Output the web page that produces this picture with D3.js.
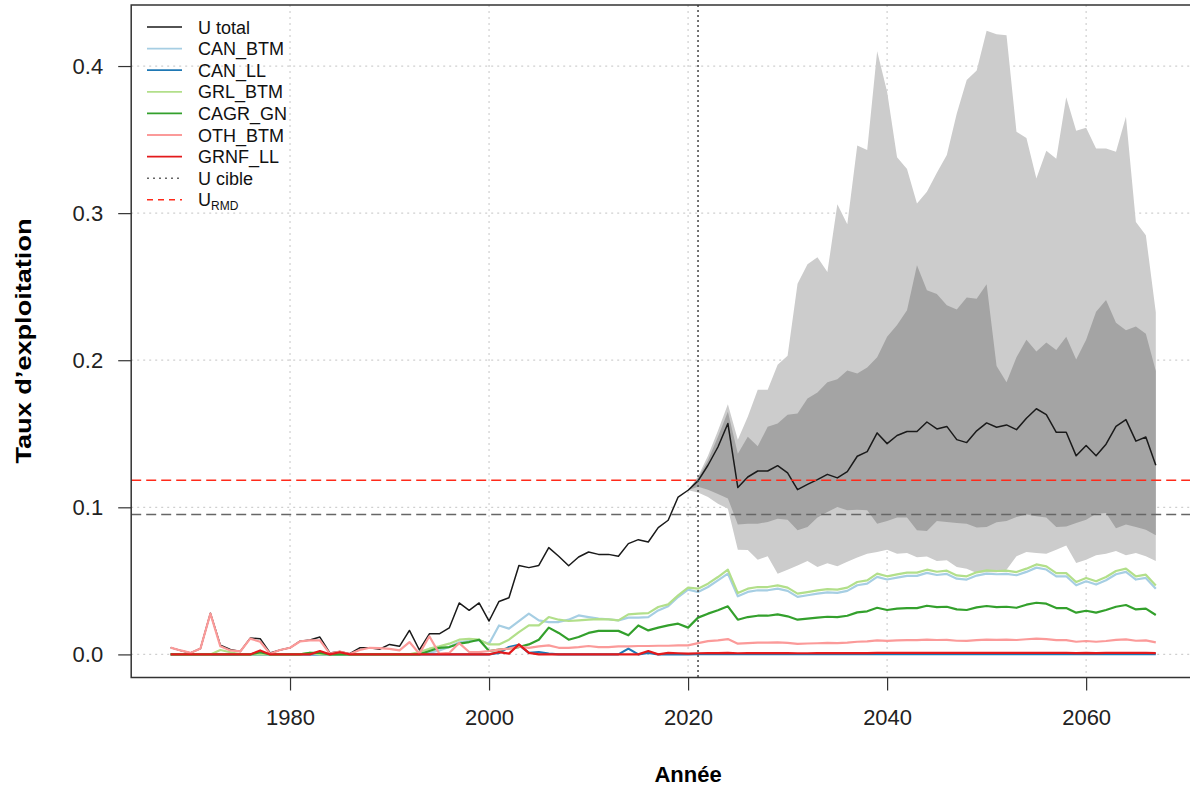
<!DOCTYPE html>
<html>
<head>
<meta charset="utf-8">
<script src="https://cdn.jsdelivr.net/npm/d3@7"></script>
<style>
  body { margin: 0; background: #fff; }
  svg { font-family: "Liberation Sans", Arial, sans-serif; }
</style>
</head>
<body>
<div id="chart"></div>
<script>
const width = 1190;
const height = 786;

// years 1968 -> 2067
const years = d3.range(1968, 2068);
const bandYears = d3.range(2020, 2068);

const uTotal = [0.0046, 0.0027, 0.001, 0.004, 0.028, 0.0063, 0.0033, 0.002, 0.0111, 0.0107,
  0.001, 0.003, 0.0045, 0.009, 0.0098, 0.0118, 0.001, 0.002, 0.0005, 0.0045,
  0.0045, 0.0035, 0.0068, 0.0055, 0.0163, 0.003, 0.014, 0.014, 0.018, 0.035,
  0.030, 0.035, 0.0227, 0.036, 0.0385, 0.0605, 0.059, 0.0605, 0.0726, 0.0667,
  0.0603, 0.0662, 0.0696, 0.068, 0.068, 0.0667, 0.0753, 0.078, 0.0764, 0.0862,
  0.0912, 0.107, 0.1116, 0.118, 0.1286, 0.141, 0.157, 0.1134, 0.1206, 0.1247,
  0.1247, 0.1283, 0.1234, 0.112, 0.1156, 0.1188, 0.1224, 0.120, 0.1243, 0.1347,
  0.1379, 0.1506, 0.1433, 0.1488, 0.1515, 0.1515, 0.158, 0.1533, 0.155, 0.146,
  0.144, 0.152, 0.1574, 0.1544, 0.156, 0.1528, 0.1605, 0.167, 0.163, 0.151,
  0.151, 0.135, 0.142, 0.135, 0.1429, 0.155, 0.1596, 0.145, 0.1478, 0.1286];

const canBtm = [0, 0, 0, 0, 0, 0, 0, 0, 0, 0,
  0, 0, 0, 0, 0, 0, 0, 0, 0, 0,
  0, 0, 0, 0, 0, 0.0005, 0.001, 0.0027, 0.005, 0.0082,
  0.0091, 0.0096, 0.0073, 0.0197, 0.0175, 0.0227, 0.0277, 0.0231, 0.022, 0.022,
  0.0236, 0.0265, 0.0254, 0.0243, 0.0239, 0.0231, 0.025, 0.025, 0.0254, 0.0299,
  0.0327, 0.039, 0.044, 0.0424, 0.0458, 0.0503, 0.0549, 0.0395, 0.0425, 0.0436,
  0.0436, 0.0447, 0.0432, 0.0391, 0.0402, 0.0413, 0.0422, 0.0418, 0.0432, 0.047,
  0.0481, 0.0527, 0.0509, 0.0522, 0.0534, 0.0534, 0.0554, 0.054, 0.0547, 0.0515,
  0.0509, 0.0536, 0.0549, 0.0545, 0.0547, 0.0538, 0.0561, 0.059, 0.0577, 0.0531,
  0.0531, 0.047, 0.0497, 0.0475, 0.0504, 0.0545, 0.0561, 0.0509, 0.052, 0.0447];

const canLl = [0, 0, 0, 0, 0, 0, 0, 0, 0, 0,
  0, 0, 0, 0, 0, 0, 0, 0, 0, 0,
  0, 0, 0, 0, 0, 0, 0, 0, 0, 0,
  0, 0, 0, 0.001, 0.005, 0.0065, 0.001, 0.0015, 0.0005, 0,
  0, 0, 0, 0, 0, 0, 0.0039, 0, 0.001, 0,
  0, 0, 0, 0.0002, 0.0002, 0.0002, 0.0002, 0.0002, 0.0002, 0.0002,
  0.0002, 0.0002, 0.0002, 0.0002, 0.0002, 0.0002, 0.0002, 0.0002, 0.0002, 0.0002,
  0.0002, 0.0002, 0.0002, 0.0002, 0.0002, 0.0002, 0.0002, 0.0002, 0.0002, 0.0002,
  0.0002, 0.0002, 0.0002, 0.0002, 0.0002, 0.0002, 0.0002, 0.0002, 0.0002, 0.0002,
  0.0002, 0.0002, 0.0002, 0.0002, 0.0002, 0.0002, 0.0002, 0.0002, 0.0002, 0.0002];

const grlBtm = [0, 0, 0, 0, 0, 0.003, 0.0015, 0, 0, 0,
  0, 0, 0, 0, 0.001, 0, 0, 0, 0, 0,
  0, 0, 0, 0, 0, 0.0016, 0.0039, 0.0055, 0.0073, 0.010,
  0.0105, 0.010, 0.0068, 0.0068, 0.010, 0.0152, 0.0197, 0.0197, 0.0254, 0.0236,
  0.0227, 0.0231, 0.0236, 0.024, 0.0238, 0.0231, 0.0272, 0.0277, 0.0281, 0.0322,
  0.034, 0.0401, 0.0454, 0.0447, 0.0481, 0.0526, 0.0576, 0.0417, 0.0447, 0.0458,
  0.0458, 0.0469, 0.0454, 0.0413, 0.0424, 0.0435, 0.0444, 0.044, 0.0454, 0.0492,
  0.0503, 0.0549, 0.0531, 0.0544, 0.0556, 0.0556, 0.0576, 0.0562, 0.0569, 0.0537,
  0.0531, 0.0558, 0.0571, 0.0567, 0.0569, 0.056, 0.0583, 0.0612, 0.0599, 0.0553,
  0.0553, 0.0492, 0.0519, 0.0497, 0.0526, 0.0567, 0.0583, 0.0531, 0.0542, 0.0469];

const cagrGn = [0, 0, 0, 0, 0, 0, 0, 0, 0, 0.0015,
  0, 0, 0, 0, 0.001, 0.001, 0, 0, 0, 0,
  0, 0, 0, 0, 0, 0, 0.0023, 0.0045, 0.005, 0.0073,
  0.0084, 0.010, 0.0023, 0.0032, 0.004, 0.005, 0.0068, 0.010, 0.0182, 0.0146,
  0.010, 0.0118, 0.0146, 0.016, 0.016, 0.016, 0.013, 0.0197, 0.0163, 0.0182,
  0.0197, 0.0209, 0.0182, 0.025, 0.0277, 0.030, 0.0327, 0.0236, 0.0254, 0.0263,
  0.0263, 0.0272, 0.0259, 0.0236, 0.0243, 0.025, 0.0256, 0.0254, 0.0263, 0.0286,
  0.0293, 0.0317, 0.0302, 0.0311, 0.0315, 0.0315, 0.0331, 0.0322, 0.0324, 0.0306,
  0.0302, 0.032, 0.0329, 0.0322, 0.0324, 0.0317, 0.0338, 0.0351, 0.0345, 0.0315,
  0.0315, 0.0284, 0.0297, 0.0284, 0.0302, 0.0324, 0.0336, 0.0306, 0.0311, 0.0268];

const othBtm = [0.0046, 0.0027, 0.001, 0.004, 0.0277, 0.0055, 0.0027, 0.002, 0.0107, 0.0086,
  0.0005, 0.003, 0.0045, 0.0088, 0.0095, 0.0095, 0.0005, 0.002, 0.0003, 0.003,
  0.0045, 0.0043, 0.0038, 0.0028, 0.0084, 0.0005, 0.0123, 0.0005, 0.001, 0.0077,
  0.0016, 0.0016, 0.0023, 0.0032, 0.0039, 0.0055, 0.0045, 0.0055, 0.0061, 0.0045,
  0.0045, 0.005, 0.0057, 0.005, 0.005, 0.0055, 0.0055, 0.0057, 0.0057, 0.0059,
  0.0059, 0.0061, 0.0061, 0.0077, 0.009, 0.0096, 0.0104, 0.0073, 0.0077, 0.008,
  0.008, 0.0082, 0.0079, 0.0072, 0.0074, 0.0076, 0.0078, 0.0077, 0.008, 0.0086,
  0.0088, 0.0096, 0.0092, 0.0095, 0.0097, 0.0097, 0.0101, 0.0098, 0.0099, 0.0093,
  0.0092, 0.0097, 0.0101, 0.0099, 0.010, 0.0098, 0.0103, 0.0107, 0.0104, 0.0097,
  0.0097, 0.0086, 0.0091, 0.0086, 0.0091, 0.0099, 0.0102, 0.0093, 0.0095, 0.0082];

const grnfLl = [0, 0, 0, 0, 0, 0, 0, 0, 0, 0.0027,
  0, 0, 0, 0, 0, 0.0023, 0, 0.0015, 0, 0,
  0, 0, 0, 0, 0, 0, 0, 0, 0, 0,
  0, 0, 0, 0.0016, 0.0005, 0.0068, 0.001, 0, 0, 0,
  0, 0, 0, 0, 0, 0, 0, 0, 0.0023, 0,
  0.001, 0.0008, 0.0005, 0.0008, 0.0009, 0.0009, 0.001, 0.0008, 0.0009, 0.0009,
  0.0009, 0.0009, 0.0009, 0.0008, 0.0008, 0.0009, 0.0009, 0.0009, 0.0009, 0.0009,
  0.0009, 0.001, 0.001, 0.001, 0.001, 0.001, 0.001, 0.001, 0.001, 0.001,
  0.001, 0.001, 0.001, 0.001, 0.001, 0.001, 0.001, 0.001, 0.001, 0.001,
  0.001, 0.0009, 0.001, 0.0009, 0.001, 0.001, 0.001, 0.001, 0.001, 0.0009];

// projection envelopes, 2020 -> 2067
const lightLo = [0.1116, 0.110, 0.107, 0.1025, 0.099, 0.0712, 0.071, 0.0644, 0.0667, 0.0549,
  0.0576, 0.0605, 0.0635, 0.0594, 0.062, 0.060, 0.063, 0.0658, 0.0685, 0.0696,
  0.0712, 0.0685, 0.069, 0.066, 0.0665, 0.0635, 0.064, 0.0594, 0.0583, 0.0553,
  0.0558, 0.0558, 0.0576, 0.0667, 0.0696, 0.069, 0.0685, 0.0712, 0.0741, 0.0621,
  0.0644, 0.0674, 0.0685, 0.0703, 0.0674, 0.069, 0.0667, 0.0635];
const lightHi = [0.1116, 0.121, 0.135, 0.152, 0.170, 0.146, 0.1615, 0.180, 0.180, 0.197,
  0.203, 0.252, 0.2653, 0.27, 0.26, 0.306, 0.2925, 0.346, 0.343, 0.41,
  0.3826, 0.338, 0.330, 0.3066, 0.3145, 0.3274, 0.3395, 0.3678, 0.3905, 0.397,
  0.424, 0.4216, 0.421, 0.3553, 0.351, 0.3236, 0.3424, 0.337, 0.3787, 0.356,
  0.358, 0.344, 0.344, 0.3417, 0.3655, 0.294, 0.285, 0.2326];
const darkLo = [0.1116, 0.114, 0.112, 0.109, 0.106, 0.0884, 0.0889, 0.0889, 0.090, 0.0923,
  0.0916, 0.0844, 0.0866, 0.093, 0.0968, 0.1002, 0.098, 0.0984, 0.098, 0.0889,
  0.0907, 0.093, 0.093, 0.0844, 0.0839, 0.0907, 0.09, 0.0893, 0.0889, 0.0862,
  0.0866, 0.0898, 0.0907, 0.0934, 0.0952, 0.0939, 0.093, 0.0866, 0.087, 0.0893,
  0.0916, 0.0957, 0.0961, 0.0857, 0.0884, 0.0866, 0.0848, 0.081];
const darkHi = [0.1116, 0.120, 0.132, 0.148, 0.165, 0.1365, 0.148, 0.1415, 0.1547, 0.157,
  0.163, 0.1637, 0.174, 0.178, 0.185, 0.187, 0.193, 0.191, 0.195, 0.202,
  0.216, 0.224, 0.234, 0.2646, 0.2476, 0.245, 0.2374, 0.2345, 0.2426, 0.2418,
  0.2517, 0.196, 0.185, 0.202, 0.214, 0.206, 0.212, 0.207, 0.216, 0.2005,
  0.214, 0.233, 0.241, 0.2254, 0.2204, 0.223, 0.218, 0.1927];

const uCible = 0.0952;
const uRmd = 0.1184;
const lastYear = 2021;

const xTicks = [1980, 2000, 2020, 2040, 2060];
const yTicks = [0, 0.1, 0.2, 0.3, 0.4];

const series = [
  {name: "U total", values: uTotal, color: "#1a1a1a", w: 1.5},
  {name: "CAN_BTM", values: canBtm, color: "#a6cee3", w: 2.2},
  {name: "CAN_LL", values: canLl, color: "#1f78b4", w: 2.2},
  {name: "GRL_BTM", values: grlBtm, color: "#b2df8a", w: 2.2},
  {name: "CAGR_GN", values: cagrGn, color: "#33a02c", w: 2.2},
  {name: "OTH_BTM", values: othBtm, color: "#fb9a99", w: 2.2},
  {name: "GRNF_LL", values: grnfLl, color: "#e31a1c", w: 2.2}
];

const plot = {left: 131.2, top: 5, right: 1195.2, bottom: 677.5};

const x = d3.scaleLinear().domain([1964.04, 2070.96]).range([plot.left, plot.right]);
const y = d3.scaleLinear().domain([-0.0157, 0.4415]).range([plot.bottom, plot.top]);

const svg = d3.select("#chart")
  .append("svg")
  .attr("width", width)
  .attr("height", height);

svg.append("defs").append("clipPath")
  .attr("id", "clip")
  .append("rect")
  .attr("x", plot.left)
  .attr("y", plot.top)
  .attr("width", plot.right - plot.left)
  .attr("height", plot.bottom - plot.top);

const g = svg.append("g").attr("clip-path", "url(#clip)");

// grid
g.selectAll("line.vgrid")
  .data(xTicks)
  .enter()
  .append("line")
  .attr("x1", d => x(d)).attr("x2", d => x(d))
  .attr("y1", plot.top).attr("y2", plot.bottom)
  .attr("stroke", "#cfcfcf")
  .attr("stroke-width", 1.2)
  .attr("stroke-dasharray", "2,4");

g.selectAll("line.hgrid")
  .data(yTicks)
  .enter()
  .append("line")
  .attr("x1", plot.left).attr("x2", plot.right)
  .attr("y1", d => y(d)).attr("y2", d => y(d))
  .attr("stroke", "#cfcfcf")
  .attr("stroke-width", 1.2)
  .attr("stroke-dasharray", "2,4");

// envelopes
const bandArea = (lo, hi) => d3.area()
  .x((d, i) => x(bandYears[i]))
  .y0((d, i) => y(lo[i]))
  .y1((d, i) => y(hi[i]));

g.append("path")
  .attr("d", bandArea(lightLo, lightHi)(bandYears))
  .attr("fill", "#cccccc");

g.append("path")
  .attr("d", bandArea(darkLo, darkHi)(bandYears))
  .attr("fill", "#a4a4a4");

// lines
const line = d3.line()
  .x((d, i) => x(years[i]))
  .y(d => y(d));

g.selectAll("path.series")
  .data(series)
  .enter()
  .append("path")
  .attr("class", "series")
  .attr("d", d => line(d.values))
  .attr("fill", "none")
  .attr("stroke", d => d.color)
  .attr("stroke-width", d => d.w)
  .attr("stroke-linejoin", "round");

// reference lines
g.append("line")
  .attr("x1", x(lastYear)).attr("x2", x(lastYear))
  .attr("y1", plot.top).attr("y2", plot.bottom)
  .attr("stroke", "#444")
  .attr("stroke-width", 1.5)
  .attr("stroke-dasharray", "2,3");

g.append("line")
  .attr("x1", plot.left).attr("x2", plot.right)
  .attr("y1", y(uCible)).attr("y2", y(uCible))
  .attr("stroke", "#666")
  .attr("stroke-width", 1.5)
  .attr("stroke-dasharray", "10,5");

g.append("line")
  .attr("x1", plot.left).attr("x2", plot.right)
  .attr("y1", y(uRmd)).attr("y2", y(uRmd))
  .attr("stroke", "#ff2a1a")
  .attr("stroke-width", 1.5)
  .attr("stroke-dasharray", "10,5");

// box
svg.append("rect")
  .attr("x", plot.left).attr("y", plot.top)
  .attr("width", plot.right - plot.left)
  .attr("height", plot.bottom - plot.top)
  .attr("fill", "none")
  .attr("stroke", "#333")
  .attr("stroke-width", 1.5);

// axes
const xAxis = svg.append("g")
  .attr("transform", `translate(0,${plot.bottom})`)
  .call(d3.axisBottom(x).tickValues(xTicks).tickSize(13).tickPadding(19).tickFormat(d3.format("d")));
xAxis.select(".domain").remove();
xAxis.selectAll("line").attr("stroke", "#333").attr("stroke-width", 1.2);
xAxis.selectAll("text").attr("font-size", 22).attr("fill", "#222")
  .attr("font-family", "Liberation Sans, Arial, sans-serif");

const yAxis = svg.append("g")
  .attr("transform", `translate(${plot.left},0)`)
  .call(d3.axisLeft(y).tickValues(yTicks).tickSize(13).tickPadding(15).tickFormat(d3.format(".1f")));
yAxis.select(".domain").remove();
yAxis.selectAll("line").attr("stroke", "#333").attr("stroke-width", 1.2);
yAxis.selectAll("text").attr("font-size", 22).attr("fill", "#222")
  .attr("font-family", "Liberation Sans, Arial, sans-serif");

svg.append("text")
  .attr("x", 688).attr("y", 782)
  .attr("text-anchor", "middle")
  .attr("font-size", 22).attr("font-weight", "bold")
  .text("Année");

svg.append("text")
  .attr("transform", "translate(31,341) rotate(-90)")
  .attr("text-anchor", "middle")
  .attr("font-size", 22).attr("font-weight", "bold")
  .attr("textLength", 245)
  .attr("lengthAdjust", "spacingAndGlyphs")
  .text("Taux d’exploitation");

// legend
const legendItems = series.map(s => ({name: s.name, color: s.color, dash: null, w: s.w === 1.5 ? 1.5 : 1.8}))
  .concat([
    {name: "U cible", color: "#666", dash: "2,4", w: 1.5},
    {name: "U", sub: "RMD", color: "#ff2a1a", dash: "6,5", w: 1.5}
  ]);

const legend = svg.append("g").attr("transform", "translate(147,27)");
const rows = legend.selectAll("g")
  .data(legendItems)
  .enter()
  .append("g")
  .attr("transform", (d, i) => `translate(0,${i * 21.6})`);

rows.append("line")
  .attr("x1", 0).attr("x2", 35)
  .attr("stroke", d => d.color)
  .attr("stroke-width", d => d.w)
  .attr("stroke-dasharray", d => d.dash);

const labels = rows.append("text")
  .attr("x", 51).attr("y", 6.5)
  .attr("font-size", 18)
  .attr("fill", "#111");
labels.append("tspan").text(d => d.name);
labels.filter(d => d.sub)
  .append("tspan")
  .attr("font-size", 12)
  .attr("dy", 4)
  .text(d => d.sub);
</script>
</body>
</html>
